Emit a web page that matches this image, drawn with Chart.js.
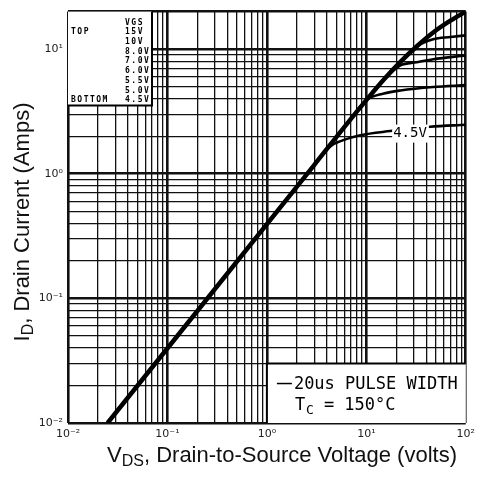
<!DOCTYPE html>
<html>
<head>
<meta charset="utf-8">
<script src="https://cdn.jsdelivr.net/npm/chart.js@4.4.1/dist/chart.umd.min.js"></script>
<style>
  body { margin: 0; background: #fff; }
  canvas { display: block; }
</style>
</head>
<body>
<canvas id="outputChart" width="480" height="479"></canvas>
<script>
// axis ranges and tick labels
const xMin = 0.01, xMax = 100;
const yMin = 0.01, yMax = 20;
const xDecades = [0.01, 0.1, 1, 10, 100];
const xTickLabels = ["10⁻²", "10⁻¹", "10⁰", "10¹", "10²"];
const yDecades = [0.01, 0.1, 1, 10];
const yTickLabels = ["10⁻²", "10⁻¹", "10⁰", "10¹"];
const minorSteps = [2, 3, 4, 5, 6, 7, 8, 9];

// curves (VDS volts, ID amps)
const vds15 = [0.025, 3, 6.9, 10, 15, 22, 32, 47, 70, 100];
const id15 = [0.01, 1.18, 2.72, 3.9, 5.7, 7.9, 10.5, 13.6, 16.9, 20];
const vds60 = [22, 32, 47, 70, 100];
const id60 = [7.9, 10.5, 12.0, 12.5, 12.9];
const vds55 = [10, 15, 22, 32, 47, 100];
const id55 = [3.9, 5.7, 7.4, 7.85, 8.3, 8.9];
const vds50 = [6.9, 10, 15, 22, 47, 100];
const id50 = [2.72, 3.9, 4.4, 4.66, 4.97, 5.14];
const vds45 = [3, 4.3, 5.85, 8.7, 17.4, 43.8, 100];
const id45 = [1.18, 1.65, 1.86, 2.04, 2.2, 2.38, 2.47];

const legendRows = ["VGS", "15V", "10V", "8.0V", "7.0V", "6.0V", "5.5V", "5.0V", "4.5V"];

const toPoints = (xs, ys) => xs.map((x, i) => ({ x: x, y: ys[i] }));

const gridTicks = (decades, min, max) => {
  const vals = [];
  decades.forEach((d) => {
    vals.push(d);
    minorSteps.forEach((m) => vals.push(d * m));
  });
  const out = vals.filter((v) => v >= min - 1e-9 && v <= max + 1e-9);
  if (out[out.length - 1] < max - 1e-9) out.push(max);
  return out.map((v) => ({ value: v }));
};

const isMajor = (v, decades, min, max) =>
  decades.some((d) => Math.abs(v - d) / d < 1e-6) || Math.abs(v - min) < 1e-9 || Math.abs(v - max) < 1e-9;

const labelFor = (v, decades, labels) => {
  const i = decades.findIndex((d) => Math.abs(v - d) / d < 1e-6);
  return i >= 0 ? labels[i] : "";
};

const drawSubText = (ctx, parts, x, y) => {
  // parts: [text, size, dy], centred on x
  let total = 0;
  parts.forEach((p) => {
    ctx.font = p[1] + "px 'Liberation Sans', Arial, sans-serif";
    total += ctx.measureText(p[0]).width;
  });
  let cx = x - total / 2;
  ctx.textAlign = "left";
  parts.forEach((p) => {
    ctx.font = p[1] + "px 'Liberation Sans', Arial, sans-serif";
    ctx.fillText(p[0], cx, y + p[2]);
    cx += ctx.measureText(p[0]).width;
  });
};

const sheetNotes = {
  id: "sheetNotes",
  beforeDatasetsDraw(chart) {
    const { ctx, chartArea: a, scales } = chart;
    ctx.save();
    // VGS legend box
    const lw = 84, lh = 94;
    ctx.fillStyle = "#fff";
    ctx.fillRect(a.left, a.top, lw, lh);
    ctx.strokeStyle = "#000";
    ctx.lineWidth = 2;
    ctx.beginPath();
    ctx.moveTo(a.left, a.top + lh);
    ctx.lineTo(a.left + lw, a.top + lh);
    ctx.lineTo(a.left + lw, a.top);
    ctx.stroke();
    ctx.fillStyle = "#000";
    ctx.font = "bold 8px 'DejaVu Sans Mono', monospace";
    ctx.letterSpacing = "1.5px";
    ctx.textBaseline = "alphabetic";
    legendRows.forEach((t, i) => {
      ctx.fillText(t, a.left + 57, a.top + 13 + i * 9.7);
    });
    ctx.fillText("TOP", a.left + 3, a.top + 13 + 9.7);
    ctx.fillText("BOTTOM", a.left + 3, a.top + 13 + 8 * 9.7);
    ctx.letterSpacing = "0px";

    // test conditions box
    const bx = scales.x.getPixelForValue(1);
    const by = scales.y.getPixelForValue(0.03);
    ctx.fillStyle = "#fff";
    ctx.fillRect(bx, by, a.right - bx, a.bottom - by);
    ctx.lineWidth = 2;
    ctx.beginPath();
    ctx.moveTo(bx, a.bottom);
    ctx.lineTo(bx, by);
    ctx.lineTo(a.right, by);
    ctx.stroke();
    ctx.lineWidth = 1.5;
    ctx.beginPath();
    ctx.moveTo(bx + 10, by + 20);
    ctx.lineTo(bx + 25, by + 20);
    ctx.stroke();
    ctx.fillStyle = "#000";
    ctx.font = "17px 'DejaVu Sans Mono', monospace";
    ctx.fillText("20us PULSE WIDTH", bx + 27, by + 25);
    ctx.fillText("T", bx + 28, by + 46);
    ctx.font = "13px 'DejaVu Sans Mono', monospace";
    ctx.fillText("C", bx + 39, by + 50);
    ctx.font = "17px 'DejaVu Sans Mono', monospace";
    ctx.fillText("= 150°C", bx + 57, by + 46);
    ctx.restore();
  },
  afterDatasetsDraw(chart) {
    const { ctx, scales } = chart;
    ctx.save();
    const lx = scales.x.getPixelForValue(18.6);
    const ly = scales.y.getPixelForValue(2.1);
    ctx.font = "14px 'DejaVu Sans Mono', monospace";
    const w = ctx.measureText("4.5V").width;
    ctx.fillStyle = "#fff";
    ctx.fillRect(lx - 1, ly - 9, w + 3, 18);
    ctx.fillStyle = "#000";
    ctx.textBaseline = "middle";
    ctx.fillText("4.5V", lx, ly);
    ctx.restore();
  },
  afterDraw(chart) {
    const { ctx } = chart;
    ctx.save();
    ctx.fillStyle = "#111";
    ctx.textBaseline = "alphabetic";
    drawSubText(ctx, [["V", 22, 0], ["DS", 16, 4], [", Drain-to-Source Voltage (volts)", 22, 0]], 282, 462);
    ctx.translate(29, 222);
    ctx.rotate(-Math.PI / 2);
    drawSubText(ctx, [["I", 22, 0], ["D", 16, 4], [", Drain Current (Amps)", 22, 0]], 0, 0);
    ctx.restore();
  }
};

const lineStyle = (w) => ({
  borderColor: "#000",
  borderWidth: w,
  pointRadius: 0,
  fill: false,
  cubicInterpolationMode: "monotone"
});

new Chart(document.getElementById("outputChart"), {
  type: "line",
  data: {
    datasets: [
      { label: "15V", data: toPoints(vds15, id15), ...lineStyle(4.5) },
      { label: "6.0V", data: toPoints(vds60, id60), ...lineStyle(2.6) },
      { label: "5.5V", data: toPoints(vds55, id55), ...lineStyle(2.6) },
      { label: "5.0V", data: toPoints(vds50, id50), ...lineStyle(2.6) },
      { label: "4.5V", data: toPoints(vds45, id45), ...lineStyle(2.6) }
    ]
  },
  options: {
    responsive: false,
    animation: false,
    devicePixelRatio: 1,
    layout: { padding: { top: 10, right: 14, left: 0, bottom: 0 } },
    plugins: { legend: { display: false }, tooltip: { enabled: false } },
    scales: {
      x: {
        type: "logarithmic",
        min: xMin,
        max: xMax,
        afterBuildTicks: (scale) => { scale.ticks = gridTicks(xDecades, xMin, xMax); },
        afterFit: (scale) => { scale.height = 56; },
        border: { display: false },
        grid: {
          color: "#111",
          drawTicks: false,
          lineWidth: (c) => (isMajor(c.tick.value, xDecades, xMin, xMax) ? 2.6 : 1.3)
        },
        ticks: {
          autoSkip: false,
          maxRotation: 0,
          padding: 5,
          color: "#222",
          font: { family: "'DejaVu Sans', sans-serif", size: 11 },
          callback: (v) => labelFor(v, xDecades, xTickLabels)
        }
      },
      y: {
        type: "logarithmic",
        min: yMin,
        max: yMax,
        afterBuildTicks: (scale) => { scale.ticks = gridTicks(yDecades, yMin, yMax); },
        afterFit: (scale) => { scale.width = 68; },
        border: { display: false },
        grid: {
          color: "#111",
          drawTicks: false,
          lineWidth: (c) => (isMajor(c.tick.value, yDecades, yMin, yMax) ? 2.6 : 1.3)
        },
        ticks: {
          autoSkip: false,
          padding: 5,
          color: "#222",
          font: { family: "'DejaVu Sans', sans-serif", size: 11 },
          callback: (v) => labelFor(v, yDecades, yTickLabels)
        }
      }
    }
  },
  plugins: [sheetNotes]
});
</script>
</body>
</html>
